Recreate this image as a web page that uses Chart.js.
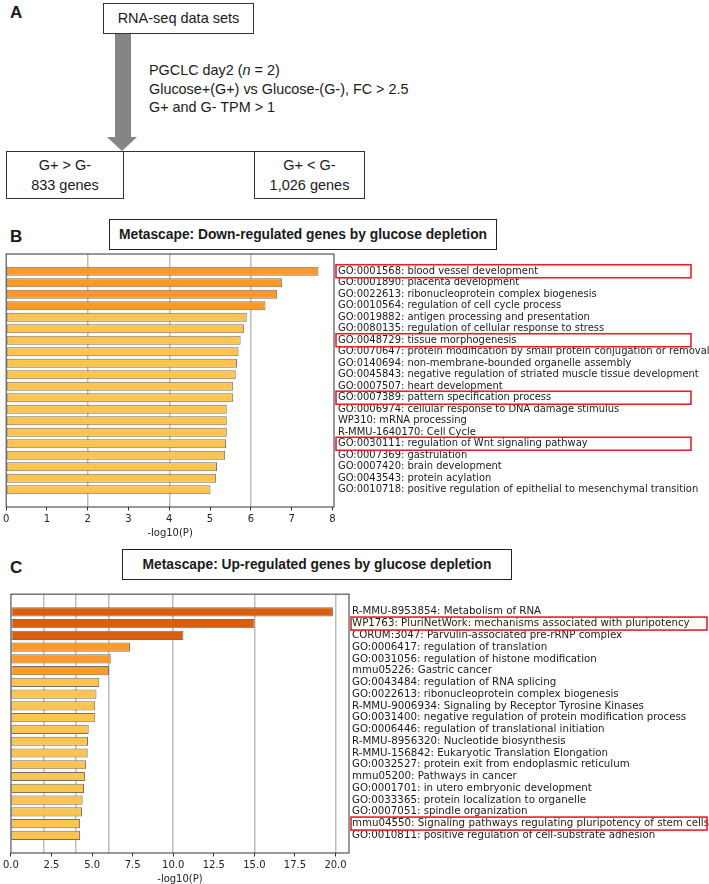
<!DOCTYPE html>
<html>
<head>
<meta charset="utf-8">
<script src="https://cdn.jsdelivr.net/npm/chart.js@4.4.0/dist/chart.umd.min.js"></script>
<style>
  html, body { margin: 0; padding: 0; background: #fff; }
  body { width: 709px; height: 884px; position: relative; overflow: hidden; font-family: 'Liberation Sans', Arial, sans-serif; color: #1a1a1a; }
  .abs { position: absolute; }
  .letter { font-weight: bold; font-size: 17px; line-height: 20px; }
  .box { border: 1px solid #333; box-sizing: border-box; text-align: center; font-size: 14.5px; background: #fff; }
  .title { border: 1.5px solid #222; box-sizing: border-box; font-weight: bold; font-size: 13.8px; text-align: center; white-space: nowrap; }
  canvas { position: absolute; left: 0; }
</style>
</head>
<body>
<!-- panel A: flow -->
<div class="abs letter" style="left:10px;top:3px">A</div>
<div class="abs box" style="left:103px;top:3px;width:151px;height:31px;line-height:29px">RNA-seq data sets</div>
<div class="abs" style="left:115px;top:34px;width:16px;height:103px;background:#858585"></div>
<div class="abs" style="left:107px;top:137px;width:0;height:0;border-left:15px solid transparent;border-right:15px solid transparent;border-top:14px solid #858585"></div>
<div class="abs" style="left:149px;top:61px;font-size:14.4px;line-height:18.5px;white-space:nowrap">
  PGCLC day2 (<i>n</i> = 2)<br>
  Glucose+(G+) vs Glucose-(G-), FC &gt; 2.5<br>
  G+ and G- TPM &gt; 1
</div>
<div class="abs" style="left:123px;top:151px;width:131px;height:1px;background:#333"></div>
<div class="abs box" style="left:6px;top:151px;width:118px;height:48px;line-height:20px;padding-top:3px">G+ &gt; G-<br>833 genes</div>
<div class="abs box" style="left:254px;top:151px;width:111px;height:48px;line-height:20px;padding-top:3px">G+ &lt; G-<br>1,026 genes</div>

<!-- panel B -->
<div class="abs letter" style="left:10px;top:227px">B</div>
<div class="abs title" style="left:109px;top:219px;width:388px;height:31px;line-height:30px">Metascape: Down-regulated genes by glucose depletion</div>
<canvas id="downChart" width="709" height="299" style="top:240px"></canvas>

<!-- panel C -->
<div class="abs letter" style="left:10px;top:558px">C</div>
<div class="abs title" style="left:122px;top:549px;width:390px;height:31px;line-height:30px">Metascape: Up-regulated genes by glucose depletion</div>
<canvas id="upChart" width="709" height="300" style="top:585px"></canvas>

<script>
// down-regulated terms (panel B)
const downLabels = [
  'GO:0001568: blood vessel development',
  'GO:0001890: placenta development',
  'GO:0022613: ribonucleoprotein complex biogenesis',
  'GO:0010564: regulation of cell cycle process',
  'GO:0019882: antigen processing and presentation',
  'GO:0080135: regulation of cellular response to stress',
  'GO:0048729: tissue morphogenesis',
  'GO:0070647: protein modification by small protein conjugation or removal',
  'GO:0140694: non-membrane-bounded organelle assembly',
  'GO:0045843: negative regulation of striated muscle tissue development',
  'GO:0007507: heart development',
  'GO:0007389: pattern specification process',
  'GO:0006974: cellular response to DNA damage stimulus',
  'WP310: mRNA processing',
  'R-MMU-1640170: Cell Cycle',
  'GO:0030111: regulation of Wnt signaling pathway',
  'GO:0007369: gastrulation',
  'GO:0007420: brain development',
  'GO:0043543: protein acylation',
  'GO:0010718: positive regulation of epithelial to mesenchymal transition'
];
const downValues = [7.66, 6.77, 6.64, 6.36, 5.90, 5.83, 5.75, 5.70, 5.66, 5.63,
                    5.56, 5.56, 5.41, 5.41, 5.41, 5.39, 5.37, 5.17, 5.15, 5.01];
const downTicks = [0, 1, 2, 3, 4, 5, 6, 7, 8];
const downGrid = [2, 4, 6];
const downMarked = [0, 6, 11, 15];

// up-regulated terms (panel C)
const upLabels = [
  'R-MMU-8953854: Metabolism of RNA',
  'WP1763: PluriNetWork: mechanisms associated with pluripotency',
  'CORUM:3047: Parvulin-associated pre-rRNP complex',
  'GO:0006417: regulation of translation',
  'GO:0031056: regulation of histone modification',
  'mmu05226: Gastric cancer',
  'GO:0043484: regulation of RNA splicing',
  'GO:0022613: ribonucleoprotein complex biogenesis',
  'R-MMU-9006934: Signaling by Receptor Tyrosine Kinases',
  'GO:0031400: negative regulation of protein modification process',
  'GO:0006446: regulation of translational initiation',
  'R-MMU-8956320: Nucleotide biosynthesis',
  'R-MMU-156842: Eukaryotic Translation Elongation',
  'GO:0032527: protein exit from endoplasmic reticulum',
  'mmu05200: Pathways in cancer',
  'GO:0001701: in utero embryonic development',
  'GO:0033365: protein localization to organelle',
  'GO:0007051: spindle organization',
  'mmu04550: Signaling pathways regulating pluripotency of stem cells',
  'GO:0010811: positive regulation of cell-substrate adhesion'
];
const upValues = [19.84, 15.01, 10.63, 7.34, 6.15, 6.04, 5.44, 5.27, 5.19, 5.17,
                  4.79, 4.75, 4.73, 4.62, 4.56, 4.50, 4.42, 4.38, 4.26, 4.26];
const upTicks = [0, 2.5, 5, 7.5, 10, 12.5, 15, 17.5, 20];
const upGrid = [2, 4, 6, 10, 15, 20];
const upMarked = [1, 18];

Chart.defaults.font.family = "'DejaVu Sans', sans-serif";
Chart.defaults.color = '#1a1a1a';

// metascape colour tiers
function tierColor(v) {
  if (v > 10) return '#d95f0e';
  if (v > 6) return '#fe9929';
  return '#fec44f';
}

// plot frame + red boxes round highlighted terms
const framePlugin = {
  id: 'frame',
  afterDraw(chart, args, o) {
    const { ctx, chartArea: a } = chart;
    const y = chart.scales.y;
    ctx.save();
    ctx.strokeStyle = '#333';
    ctx.lineWidth = 1;
    ctx.strokeRect(a.left, a.top, a.right - a.left, a.bottom - a.top);
    ctx.strokeStyle = '#e0242a';
    ctx.lineWidth = 1.6;
    o.marked.forEach(i => {
      const py = y.getPixelForValue(i);
      ctx.strokeRect(a.right + 2, py - 6.5, o.boxRight - a.right - 2, 13);
    });
    ctx.restore();
  }
};

function makeChart(id, labels, values, ticks, grid, marked, cfg) {
  return new Chart(document.getElementById(id), {
    type: 'bar',
    data: {
      datasets: [{
        data: values.map((v, i) => ({ x: v, y: i })),
        backgroundColor: values.map(tierColor),
        borderColor: '#77705f',
        borderWidth: 1,
        borderSkipped: false,
        barPercentage: 0.78,
        categoryPercentage: 1
      }]
    },
    options: {
      indexAxis: 'y',
      responsive: false,
      animation: false,
      devicePixelRatio: 1,
      layout: { padding: cfg.padding },
      plugins: {
        legend: { display: false },
        tooltip: { enabled: false },
        frame: { marked: marked, boxRight: cfg.boxRight }
      },
      scales: {
        x: {
          type: 'linear',
          position: 'bottom',
          min: 0,
          max: cfg.xMax,
          afterBuildTicks: s => { s.ticks = ticks.map(v => ({ value: v })); },
          afterFit: s => { s.height = 32; },
          grid: { drawOnChartArea: false, drawTicks: true, tickLength: 3.5, color: '#333' },
          border: { display: false },
          ticks: {
            autoSkip: false, maxRotation: 0, padding: 3, color: '#222',
            font: { size: 10 },
            callback: cfg.fmt
          },
          title: { display: true, text: '-log10(P)', color: '#222', font: { size: 10 }, padding: { top: 0, bottom: 0 } }
        },
        xg: {
          type: 'linear',
          position: 'bottom',
          min: 0,
          max: cfg.xMax,
          afterBuildTicks: s => { s.ticks = grid.map(v => ({ value: v })); },
          afterFit: s => { s.height = 0; },
          grid: { drawTicks: false, color: '#bdbdbd', lineWidth: 1.5 },
          border: { display: false },
          ticks: { display: false }
        },
        y: {
          type: 'linear',
          position: 'right',
          reverse: true,
          min: -0.95,
          max: 19.95,
          afterBuildTicks: s => { s.ticks = labels.map((_, i) => ({ value: i })); },
          afterFit: s => { s.width = cfg.labelWidth; },
          grid: { display: false, drawTicks: false },
          border: { display: false },
          ticks: {
            autoSkip: false, padding: cfg.labelPad, color: '#1a1a1a',
            font: { size: cfg.labelSize },
            callback: v => labels[v]
          }
        }
      }
    },
    plugins: [framePlugin]
  });
}

makeChart('downChart', downLabels, downValues, downTicks, downGrid, downMarked, {
  padding: { top: 14, left: 4, right: 0, bottom: 0 },
  xMax: 8.04,
  labelWidth: 375,
  labelPad: 4,
  labelSize: 9.95,
  boxRight: 691,
  fmt: v => String(v)
});

makeChart('upChart', upLabels, upValues, upTicks, upGrid, upMarked, {
  padding: { top: 8, left: 7, right: 0, bottom: 0 },
  xMax: 20.83,
  labelWidth: 360,
  labelPad: 3,
  labelSize: 10.25,
  boxRight: 707,
  fmt: v => v.toFixed(1)
});
</script>
</body>
</html>
